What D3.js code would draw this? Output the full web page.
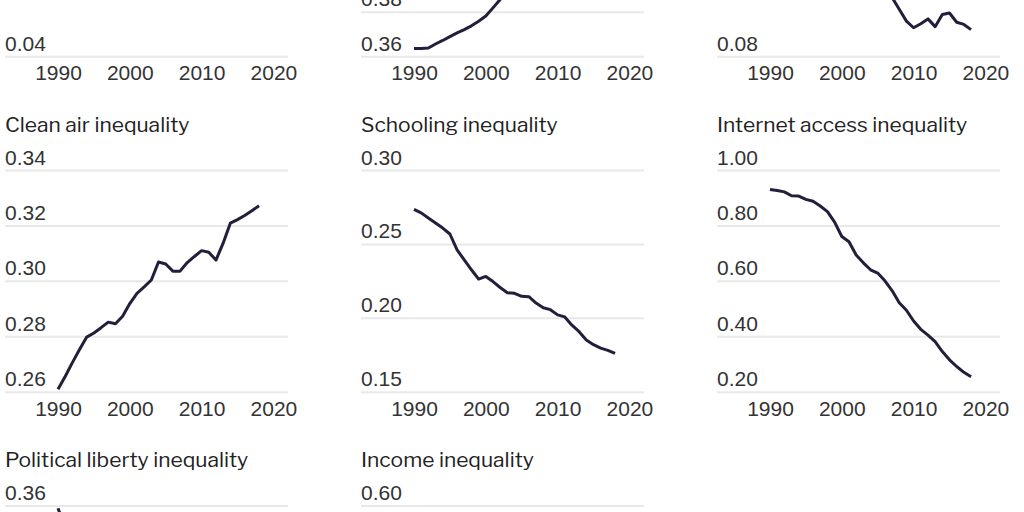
<!DOCTYPE html>
<html>
<head>
<meta charset="utf-8">
<script src="https://cdn.jsdelivr.net/npm/d3@7"></script>
<style>
  body { margin: 0; background: #fff; }
  svg { display: block; }
  .title { font-size: 21px; fill: #222; }
  .tick text { font-size: 21px; fill: #333; }
  .grid .tick line { stroke: #e8e8e8; stroke-width: 2; }
  .series { fill: none; stroke: #221f3b; stroke-width: 3; stroke-linejoin: round; }
</style>
</head>
<body>
<div id="container"></div>
<script>
const years = d3.range(1990, 2019);
const xTicks = [1990, 2000, 2010, 2020];

// top row (only the bottom of these panels is in view)
const topLeftValues = [0.112, 0.110, 0.109, 0.107, 0.106, 0.104, 0.103, 0.101, 0.100, 0.098,
  0.097, 0.096, 0.094, 0.093, 0.092, 0.090, 0.089, 0.088, 0.086, 0.085,
  0.084, 0.083, 0.082, 0.080, 0.079, 0.078, 0.077, 0.076, 0.075];
const topLeftTicks = [0.04, 0.06, 0.08, 0.10];

const topMidValues = [0.3635, 0.3635, 0.3637, 0.3655, 0.3671, 0.3688, 0.3705, 0.3720, 0.3737, 0.3758,
  0.3781, 0.3818, 0.3856, 0.3895, 0.3932, 0.3968, 0.4003, 0.4041, 0.4076, 0.4112,
  0.4145, 0.4180, 0.4212, 0.4240, 0.4272, 0.4301, 0.4330, 0.4358, 0.4385];
const topMidTicks = [0.36, 0.38, 0.40, 0.42, 0.44, 0.46];

const topRightValues = [0.132, 0.131, 0.129, 0.128, 0.126, 0.124, 0.122, 0.120, 0.118, 0.116,
  0.114, 0.112, 0.110, 0.108, 0.106, 0.104, 0.0995, 0.0959, 0.0927, 0.0895,
  0.0877, 0.0888, 0.0901, 0.0880, 0.0913, 0.0917, 0.0892, 0.0886, 0.0872];
const topRightTicks = [0.08, 0.10, 0.12, 0.14];

// middle row
const cleanAir = [0.2609, 0.2655, 0.2705, 0.2752, 0.2797, 0.2812, 0.2831, 0.2851, 0.2845, 0.2872,
  0.2918, 0.2955, 0.2978, 0.3003, 0.3068, 0.3061, 0.3035, 0.3035, 0.3066, 0.3088,
  0.3109, 0.3103, 0.3075, 0.3136, 0.3208, 0.3221, 0.3236, 0.3253, 0.3271];
const cleanAirTicks = [0.26, 0.28, 0.30, 0.32, 0.34];

const schooling = [0.2734, 0.2710, 0.2675, 0.2642, 0.2607, 0.2567, 0.2459, 0.2392, 0.2325, 0.2262,
  0.2280, 0.2245, 0.2205, 0.2170, 0.2166, 0.2145, 0.2143, 0.2100, 0.2068, 0.2055,
  0.2020, 0.2006, 0.1950, 0.1906, 0.1850, 0.1818, 0.1795, 0.1780, 0.1760];
const schoolingTicks = [0.15, 0.20, 0.25, 0.30];

const internet = [0.930, 0.926, 0.921, 0.907, 0.906, 0.894, 0.887, 0.870, 0.850, 0.812,
  0.760, 0.741, 0.693, 0.665, 0.640, 0.628, 0.600, 0.565, 0.521, 0.494,
  0.455, 0.425, 0.404, 0.381, 0.345, 0.315, 0.291, 0.270, 0.254];
const internetTicks = [0.20, 0.40, 0.60, 0.80, 1.00];

// bottom row (only the top of these panels is in view)
const politicalLiberty = [0.359, 0.352, 0.344, 0.337, 0.331, 0.326, 0.322, 0.318, 0.315, 0.312,
  0.310, 0.308, 0.306, 0.304, 0.303, 0.302, 0.300, 0.299, 0.298, 0.298,
  0.297, 0.296, 0.296, 0.295, 0.295, 0.294, 0.294, 0.293, 0.293];
const politicalLibertyTicks = [0.28, 0.30, 0.32, 0.34, 0.36];

const income = [0.56, 0.56, 0.57, 0.57, 0.57, 0.58, 0.58, 0.58, 0.58, 0.57,
  0.57, 0.57, 0.57, 0.56, 0.56, 0.56, 0.55, 0.55, 0.55, 0.54,
  0.54, 0.54, 0.53, 0.53, 0.53, 0.52, 0.52, 0.52, 0.52];
const incomeTicks = [0.45, 0.50, 0.55, 0.60];

const panels = [
  { row: 0, col: 0, title: "", values: topLeftValues, ticks: topLeftTicks },
  { row: 0, col: 1, title: "", values: topMidValues, ticks: topMidTicks },
  { row: 0, col: 2, title: "", values: topRightValues, ticks: topRightTicks },
  { row: 1, col: 0, title: "Clean air inequality", values: cleanAir, ticks: cleanAirTicks },
  { row: 1, col: 1, title: "Schooling inequality", values: schooling, ticks: schoolingTicks },
  { row: 1, col: 2, title: "Internet access inequality", values: internet, ticks: internetTicks },
  { row: 2, col: 0, title: "Political liberty inequality", values: politicalLiberty, ticks: politicalLibertyTicks },
  { row: 2, col: 1, title: "Income inequality", values: income, ticks: incomeTicks }
];

const width = 1024, height = 512;
const colStep = 356, rowStep = 335.5;
const plotHeight = 221.7;
const gridWidth = 283;

const svg = d3.select("#container")
  .append("svg")
  .attr("width", width)
  .attr("height", height)
  .style("font-family", "'Libre Franklin', 'Noto Sans', sans-serif");

const x = d3.scaleLinear().domain([1990, 2020]).range([53, 268.4]);

panels.forEach(p => {
  const top = 170 + (p.row - 1) * rowStep;
  const g = svg.append("g")
    .attr("transform", `translate(${5 + p.col * colStep},${top})`);

  const y = d3.scaleLinear()
    .domain(d3.extent(p.ticks))
    .range([plotHeight, 0]);

  // gridlines with labels sitting on top of them
  const grid = g.append("g")
    .attr("class", "grid")
    .call(d3.axisRight(y)
      .tickValues(p.ticks)
      .tickSize(gridWidth)
      .tickFormat(d3.format(".2f")));
  grid.select(".domain").remove();
  grid.selectAll(".tick text")
    .attr("x", 0)
    .attr("dy", -6)
    .attr("text-anchor", "start");
  // labels that fall wholly outside the page are dropped
  grid.selectAll(".tick text")
    .filter(d => top + y(d) < 0 || top + y(d) - 6 - 16 > height)
    .remove();

  if (top + plotHeight + 30 < height) {
    const xAxis = g.append("g")
      .attr("transform", `translate(0,${plotHeight})`)
      .call(d3.axisBottom(x)
        .tickValues(xTicks)
        .tickSize(0)
        .tickPadding(9)
        .tickFormat(d3.format("d")));
    xAxis.select(".domain").remove();
    xAxis.selectAll(".tick text").attr("dy", "0.71em");
  }

  if (p.title) {
    g.append("text")
      .attr("class", "title")
      .attr("x", 0)
      .attr("y", -38.5)
      .text(p.title);
  }

  const line = d3.line()
    .x((d, i) => x(years[i]))
    .y(d => y(d));

  g.append("path")
    .datum(p.values)
    .attr("class", "series")
    .attr("d", line);
});
</script>
</body>
</html>
